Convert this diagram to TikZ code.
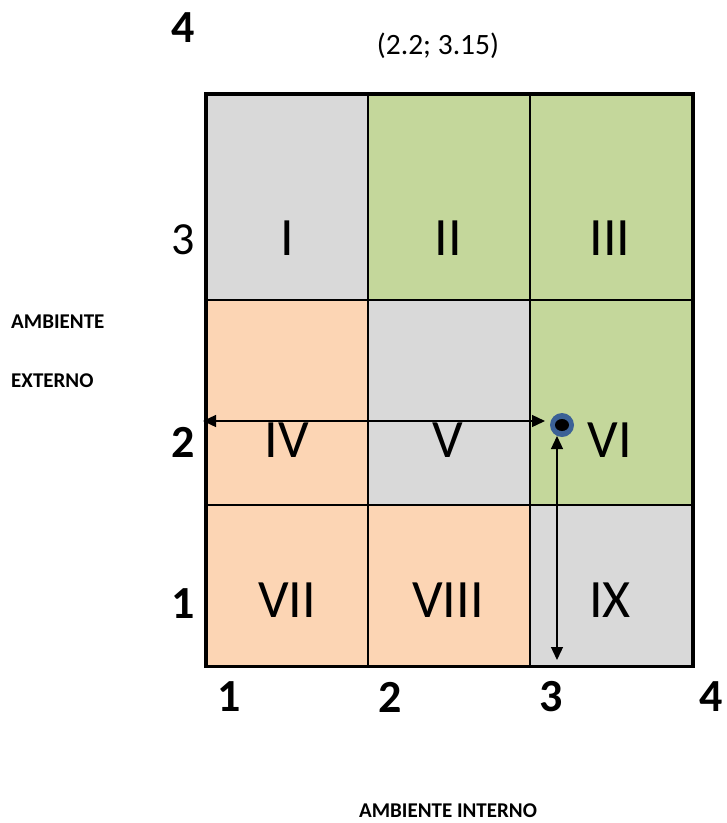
\documentclass[tikz,border=0pt]{standalone}
\usepackage{fontspec}
\setmainfont{Carlito}
\usetikzlibrary{arrows.meta,shapes.geometric}
\definecolor{cellgray}{HTML}{D9D9D9}
\definecolor{cellgreen}{HTML}{C4D79B}
\definecolor{cellpeach}{HTML}{FCD5B4}
\definecolor{dotblue}{HTML}{3B6196}
\begin{document}
\begin{tikzpicture}[x=1pt,y=-1pt,
  cell/.style={draw=black,line width=2.2pt,minimum width=162pt,anchor=north west,inner sep=0pt},
  roman/.style={font=\fontsize{54}{54}\selectfont,inner sep=0pt},
  axisnum/.style={font=\bfseries\fontsize{46}{46}\selectfont,inner sep=0pt},
  axislabel/.style={font=\bfseries\fontsize{21}{21}\selectfont,inner sep=0pt},
  dbl/.style={{Triangle[length=13pt,width=12pt]}-{Triangle[length=13pt,width=12pt]},line width=1.3pt}]
\useasboundingbox (0,0) rectangle (727,823);
% row 1
\node[cell,fill=cellgray,minimum height=205pt] (c1) at (205.5,93.5) {};
\node[cell,fill=cellgreen,minimum height=205pt] (c2) at (367,93.5) {};
\node[cell,fill=cellgreen,minimum height=205pt] (c3) at (529,93.5) {};
% row 2
\node[cell,fill=cellpeach,minimum height=205pt] (c4) at (205.5,298.5) {};
\node[cell,fill=cellgray,minimum height=205pt] (c5) at (367,298.5) {};
\node[cell,fill=cellgreen,minimum height=205pt] (c6) at (529,298.5) {};
% row 3
\node[cell,fill=cellpeach,minimum height=161pt] (c7) at (205.5,503.5) {};
\node[cell,fill=cellpeach,minimum height=161pt] (c8) at (367,503.5) {};
\node[cell,fill=cellgray,minimum height=161pt] (c9) at (529,503.5) {};
% outer frame
\draw[line width=3pt] (c1.north west) rectangle (c9.south east);
% quadrant numerals
\node[roman] (l1) at (287,238) {I};
\node[roman] (l2) at (448,238) {II};
\node[roman] (l3) at (610,238) {III};
\node[roman] (l4) at (287,440) {IV};
\node[roman] (l5) at (448,440) {V};
\node[roman] (l6) at (610,440) {VI};
\node[roman] (l7) at (287,600) {VII};
\node[roman] (l8) at (448,600) {VIII};
\node[roman] (l9) at (610,600) {IX};
% axis numbers
\node[font=\fontsize{46}{46}\selectfont,inner sep=0pt] (y3) at (183,240) {3};
\node[axisnum] (y2) at (183,442) {2};
\node[axisnum] (y1) at (183,604) {1};
\node[axisnum] (y4) at (183,28) {4};
\node[axisnum] (x1) at (229,697) {1};
\node[axisnum] (x2) at (390,697) {2};
\node[axisnum] (x3) at (551,697) {3};
\node[axisnum] (x4) at (711,697) {4};
% point label
\node[font=\fontsize{29.5}{29.5}\selectfont,inner sep=0pt] (pt) at (438,46) {(2.2; 3.15)};
% axis titles
\node[axislabel,anchor=west] (ext1) at (11,322) {AMBIENTE};
\node[axislabel,anchor=west] (ext2) at (11,381) {EXTERNO};
\node[axislabel] (int) at (448,811) {AMBIENTE INTERNO};
% the point
\node[circle,fill=dotblue,minimum size=24pt,inner sep=0pt] (dot) at (562,425) {};
\node[ellipse,fill=black,minimum width=14pt,minimum height=12pt,inner sep=0pt] (core) at (562,425) {};
\coordinate (hl) at (203,421);
\coordinate (hr) at (545,421);
\coordinate (vt) at (557,436);
\coordinate (vb) at (557,660);
\draw[dbl] (hl) -- (hr);
\draw[dbl] (vt) -- (vb);
\end{tikzpicture}
\end{document}
